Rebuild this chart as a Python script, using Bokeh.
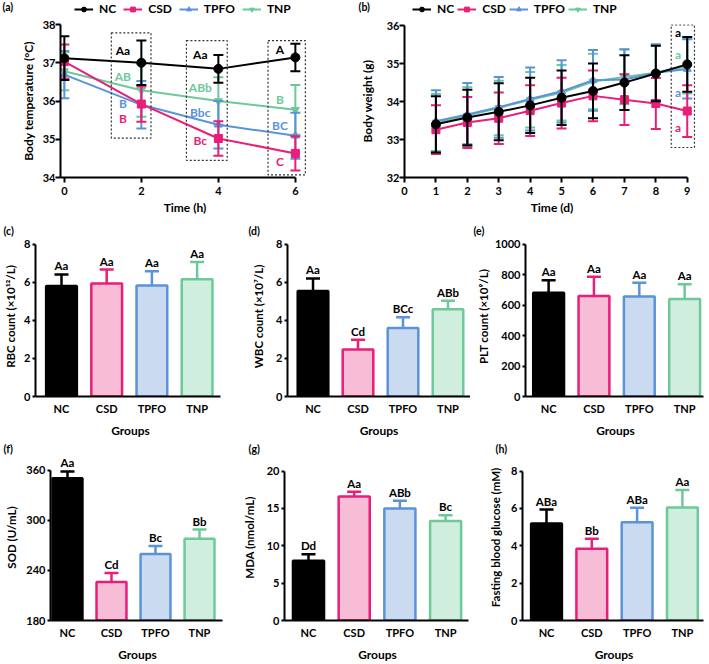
from bokeh.plotting import figure
from bokeh.models import Range1d, Legend, LegendItem, FixedTicker, Title
from bokeh.layouts import column, row
from bokeh.embed import file_html
from bokeh.resources import INLINE

FONT = "Lato"
groups = ["NC", "CSD", "TPFO", "TNP"]
line_colors = ["#000000", "#E91E79", "#5B93D9", "#6DC99A"]
fill_colors = ["#000000", "#F7BDD7", "#C9DAF1", "#D0EEDD"]
markers = ["circle", "square", "triangle", "inverted_triangle"]

# ---------------- (a) body temperature ----------------
temp_time = [0, 2, 4, 6]
temp_mean = {
    "NC": [37.12, 37.00, 36.84, 37.14],
    "CSD": [37.03, 35.92, 35.02, 34.63],
    "TPFO": [36.69, 35.90, 35.38, 35.09],
    "TNP": [36.78, 36.28, 36.00, 35.77],
}
temp_sd = {
    "NC": [0.57, 0.58, 0.36, 0.36],
    "CSD": [0.45, 0.46, 0.45, 0.45],
    "TPFO": [0.62, 0.62, 0.62, 0.60],
    "TNP": [0.50, 0.69, 0.62, 0.65],
}
temp_letters = {
    "NC": ["Aa", "Aa", "A"],
    "CSD": ["B", "Bc", "C"],
    "TPFO": ["B", "Bbc", "BC"],
    "TNP": ["AB", "ABb", "B"],
}
temp_letter_x = [1.52, 3.53, 5.60]
temp_letter_y = {
    "NC": [37.32, 37.21, 37.35],
    "CSD": [35.55, 34.98, 34.42],
    "TPFO": [35.94, 35.70, 35.36],
    "TNP": [36.64, 36.34, 36.05],
}
temp_box_left = [1.22, 3.17, 5.29]
temp_box_right = [2.25, 4.23, 6.26]
temp_box_bottom = [35.03, 34.45, 34.07]
temp_box_top = [37.78, 37.58, 37.58]

# ---------------- (b) body weight ----------------
weight_day = [1, 2, 3, 4, 5, 6, 7, 8, 9]
weight_mean = {
    "NC": [33.40, 33.58, 33.73, 33.90, 34.10, 34.28, 34.50, 34.74, 34.98],
    "CSD": [33.26, 33.45, 33.56, 33.76, 33.96, 34.15, 34.05, 33.95, 33.75],
    "TPFO": [33.48, 33.66, 33.85, 34.07, 34.27, 34.56, 34.58, 34.76, 34.86],
    "TNP": [33.45, 33.63, 33.83, 34.05, 34.23, 34.53, 34.65, 34.76, 34.93],
}
weight_sd = {
    "NC": [0.74, 0.73, 0.75, 0.73, 0.72, 0.72, 0.72, 0.73, 0.72],
    "CSD": [0.64, 0.67, 0.68, 0.67, 0.67, 0.67, 0.67, 0.67, 0.68],
    "TPFO": [0.82, 0.83, 0.80, 0.83, 0.82, 0.80, 0.80, 0.75, 0.78],
    "TNP": [0.75, 0.75, 0.72, 0.73, 0.73, 0.73, 0.72, 0.72, 0.72],
}
weight_letters = {"NC": "a", "CSD": "a", "TPFO": "a", "TNP": "a"}
weight_letter_x = 8.71
weight_letter_y = {"NC": 35.83, "CSD": 33.33, "TPFO": 34.23, "TNP": 35.23}
weight_box = (8.49, 9.23, 32.79, 36.02)

# ---------------- bar panels ----------------
rbc = [5.81, 5.95, 5.84, 6.17]
rbc_err = [0.61, 0.73, 0.75, 0.91]
rbc_letters = ["Aa", "Aa", "Aa", "Aa"]

wbc = [5.55, 2.47, 3.60, 4.59]
wbc_err = [0.66, 0.52, 0.57, 0.45]
wbc_letters = ["Aa", "Cd", "BCc", "ABb"]

plt_count = [683, 661, 657, 641]
plt_err = [82, 126, 91, 98]
plt_letters = ["Aa", "Aa", "Aa", "Aa"]

sod = [350.2, 226.2, 259.5, 277.8]
sod_err = [8.2, 10.6, 9.7, 11.0]
sod_letters = ["Aa", "Cd", "Bc", "Bb"]

mda = [7.99, 16.59, 14.98, 13.32]
mda_err = [0.87, 0.66, 1.05, 0.78]
mda_letters = ["Dd", "Aa", "ABb", "Bc"]

glucose = [5.20, 3.84, 5.26, 6.05]
glucose_err = [0.74, 0.54, 0.78, 0.94]
glucose_letters = ["ABa", "Bb", "ABa", "Aa"]


# ---------------- helpers ----------------
def base_fig(spec):
    W, H, L, R, T, B = spec["box"]
    p = figure(width=W, height=H, x_range=Range1d(*spec["xr"]), y_range=Range1d(*spec["yr"]),
               output_backend="svg", toolbar_location=None, tools="",
               min_border_left=L, min_border_right=R, min_border_top=T, min_border_bottom=B)
    p.outline_line_color = None
    p.xgrid.visible = False
    p.ygrid.visible = False
    p.background_fill_color = "white"
    p.border_fill_color = "white"
    for ax in (p.xaxis[0], p.yaxis[0]):
        ax.axis_line_width = 2
        ax.axis_line_color = "black"
        ax.major_tick_line_width = 2
        ax.major_tick_line_color = "black"
        ax.major_tick_in = 0
        ax.major_tick_out = 4
        ax.minor_tick_line_color = None
        ax.major_label_text_font = FONT
        ax.major_label_text_font_style = "bold"
        ax.major_label_text_font_size = "11px"
        ax.major_label_text_color = "black"
        ax.axis_label_text_font = FONT
        ax.axis_label_text_font_style = "bold"
        ax.axis_label_text_font_size = "12px"
        ax.axis_label_text_color = "black"
    return p


def panel_title(p, text, offset):
    p.title = Title(text=text, align="left", offset=offset, standoff=0,
                    text_font=FONT, text_font_style="bold", text_font_size="10.5px",
                    text_color="black")


def line_panel(spec, xs, means, sds, cap, xlabel, ylabel, xticks, yticks, ybounds, xbounds, ylab_standoff):
    p = base_fig(spec)
    for i in reversed(range(4)):
        g = groups[i]
        c = line_colors[i]
        m = means[g]
        s = sds[g]
        lo = [a - b for a, b in zip(m, s)]
        hi = [a + b for a, b in zip(m, s)]
        p.segment(x0=xs, y0=lo, x1=xs, y1=hi, line_color=c, line_width=2)
        p.scatter(xs, hi, marker="dash", size=cap, line_color=c, line_width=2)
        p.scatter(xs, lo, marker="dash", size=cap, line_color=c, line_width=2)
        p.line(xs, m, line_color=c, line_width=2)
        p.scatter(xs, m, marker=markers[i], size=9 if i == 0 else 8, fill_color=c, line_color=c)
    xa, ya = p.xaxis[0], p.yaxis[0]
    xa.axis_label = xlabel
    ya.axis_label = ylabel
    xa.ticker = FixedTicker(ticks=xticks)
    ya.ticker = FixedTicker(ticks=yticks)
    xa.bounds = xbounds
    ya.bounds = ybounds
    xa.major_tick_out = 5
    xa.major_label_standoff = 4
    xa.axis_label_standoff = 2
    ya.major_tick_out = 5
    ya.major_label_standoff = 0
    ya.axis_label_standoff = ylab_standoff
    return p


def bar_panel(spec, vals, errs, letters, ylabel, yticks, ybounds, xbounds, ylab_standoff, tag, tag_offset):
    p = base_fig(spec)
    xs = [0, 1, 2, 3]
    tops = [v + e for v, e in zip(vals, errs)]
    p.segment(x0=xs, y0=vals, x1=xs, y1=tops, line_color=line_colors, line_width=2.5)
    p.scatter(xs, tops, marker="dash", size=14, line_color=line_colors, line_width=2.5)
    p.vbar(x=xs, top=vals, bottom=ybounds[0], width=0.68, fill_color=fill_colors,
           line_color=line_colors, line_width=2.5)
    p.text(x=xs, y=tops, text=letters, text_align="center", text_baseline="bottom",
           y_offset=-2, text_font={"value": FONT}, text_font_style="bold",
           text_font_size="11.5px", text_color="black")
    xa, ya = p.xaxis[0], p.yaxis[0]
    xa.axis_label = "Groups"
    ya.axis_label = ylabel
    xa.ticker = FixedTicker(ticks=xs)
    xa.major_label_overrides = {i: g for i, g in enumerate(groups)}
    xa.major_tick_out = 0
    xa.major_tick_line_color = None
    xa.major_label_standoff = 5
    xa.axis_label_standoff = 5
    xa.bounds = xbounds
    ya.ticker = FixedTicker(ticks=yticks)
    ya.bounds = ybounds
    ya.major_tick_out = 3
    ya.major_label_standoff = 2
    ya.axis_label_standoff = ylab_standoff
    ya.axis_label_text_font_size = "11.5px"
    panel_title(p, tag, tag_offset)
    return p


# ---------------- header strip: panel tags (a), (b) and the two legends ----------------
strip = figure(width=709, height=16, x_range=Range1d(0, 709), y_range=Range1d(16, 0),
               output_backend="svg", toolbar_location=None, tools="",
               x_axis_type=None, y_axis_type=None,
               min_border_left=0, min_border_right=0, min_border_top=0, min_border_bottom=0)
strip.outline_line_color = None
strip.xgrid.visible = False
strip.ygrid.visible = False
strip.text(x=[2, 358], y=[6, 6], text=["(a)", "(b)"], text_align="left", text_baseline="middle",
           text_font={"value": FONT}, text_font_style="bold", text_font_size="10.5px", text_color="black")
key_items = []
for i, g in enumerate(groups):
    # off-canvas sample renderers: they only supply the legend swatches
    lr = strip.line(x=[-50, -40], y=[-50, -50], line_color=line_colors[i], line_width=2)
    sr = strip.scatter(x=[-50], y=[-50], marker=markers[i], size=9 if i == 0 else 8,
                       fill_color=line_colors[i], line_color=line_colors[i])
    key_items.append((g, [lr, sr]))
for lx, gap in ((74, 7), (412, 3)):
    strip.add_layout(Legend(items=[LegendItem(label=g, renderers=r) for g, r in key_items],
                            orientation="horizontal", location=(lx, 0),
                            border_line_color=None, background_fill_alpha=0,
                            label_text_font=FONT, label_text_font_style="bold",
                            label_text_font_size="12px", label_text_color="black",
                            glyph_width=19, glyph_height=12, label_height=12, label_width=0,
                            label_standoff=6, spacing=gap, padding=0, margin=0))

# ---------------- layout specs (box = W, H, L, R, T, B) ----------------
spec_a = dict(box=(355, 204, 60, 46, 8, 43), xr=(-0.1, 6.367), yr=(34, 38))
spec_b = dict(box=(354, 204, 49, 10, 8, 43), xr=(0, 9.39), yr=(32, 36.03))
spec_c = dict(box=(235, 220, 35, 10, 16, 43), xr=(-0.575, 3.628), yr=(0, 8.418))
spec_d = dict(box=(235, 220, 52, 0, 16, 43), xr=(-0.567, 3.5), yr=(0, 8.418))
spec_e = dict(box=(239, 220, 55, 4, 16, 43), xr=(-0.51, 3.46), yr=(0, 1052.3))
spec_f = dict(box=(235, 224, 50, 11, 13, 41), xr=(-0.386, 3.568), yr=(180, 378.7))
spec_g = dict(box=(235, 224, 49, 0, 13, 41), xr=(-0.525, 3.545), yr=(0, 22.22))
spec_h = dict(box=(239, 224, 52, 4, 13, 41), xr=(-0.53, 3.51), yr=(0, 8.889))

# (a)
pa = line_panel(spec_a, temp_time, temp_mean, temp_sd, 10, "Time (h)", "Body temperature (°C)",
                [0, 2, 4, 6], [34, 35, 36, 37, 38], (34, 38), (-0.1, 6), 4)
pa.quad(left=temp_box_left, right=temp_box_right, bottom=temp_box_bottom, top=temp_box_top,
        fill_color=None, line_color="#333333", line_width=1.2, line_dash="2 2")
for i, g in enumerate(groups):
    pa.text(x=temp_letter_x, y=temp_letter_y[g], text=temp_letters[g], text_align="center",
            text_baseline="middle", text_font={"value": FONT}, text_font_style="bold",
            text_font_size="12px", text_color=line_colors[i])

# (b)
pb = line_panel(spec_b, weight_day, weight_mean, weight_sd, 10, "Time (d)", "Body weight (g)",
                list(range(10)), [32, 33, 34, 35, 36], (32, 36), (0, 9), 9)
pb.quad(left=[weight_box[0]], right=[weight_box[1]], bottom=[weight_box[2]], top=[weight_box[3]],
        fill_color=None, line_color="#333333", line_width=1.2, line_dash="2 2")
for i, g in enumerate(groups):
    pb.text(x=[weight_letter_x], y=[weight_letter_y[g]], text=[weight_letters[g]], text_align="center",
            text_baseline="middle", text_font={"value": FONT}, text_font_style="bold",
            text_font_size="12px", text_color=line_colors[i])

pc = bar_panel(spec_c, rbc, rbc_err, rbc_letters, "RBC count (×10¹²/L)", [0, 2, 4, 6, 8], (0, 8),
               (-0.575, 3.52), 4, "(c)", -32)
pd = bar_panel(spec_d, wbc, wbc_err, wbc_letters, "WBC count (×10⁷/L)", [0, 2, 4, 6, 8], (0, 8),
               (-0.567, 3.5), 8, "(d)", -39)
pe = bar_panel(spec_e, plt_count, plt_err, plt_letters, "PLT count (×10⁹/L)", [0, 200, 400, 600, 800, 1000],
               (0, 1000), (-0.51, 3.42), 2, "(e)", -52)
pf = bar_panel(spec_f, sod, sod_err, sod_letters, "SOD (U/mL)", [180, 240, 300, 360], (180, 360),
               (-0.386, 3.52), 5, "(f)", -47)
pg = bar_panel(spec_g, mda, mda_err, mda_letters, "MDA (nmol/mL)", [0, 5, 10, 15, 20], (0, 20),
               (-0.525, 3.5), 8, "(g)", -36)
ph = bar_panel(spec_h, glucose, glucose_err, glucose_letters, "Fasting blood glucose (mM)", [0, 2, 4, 6, 8],
               (0, 8), (-0.53, 3.47), 6, "(h)", -27)

layout = column(strip, row(pa, pb, spacing=0), row(pc, pd, pe, spacing=0), row(pf, pg, ph, spacing=0),
                spacing=0)
open("out.html", "w").write(file_html(layout, INLINE))
